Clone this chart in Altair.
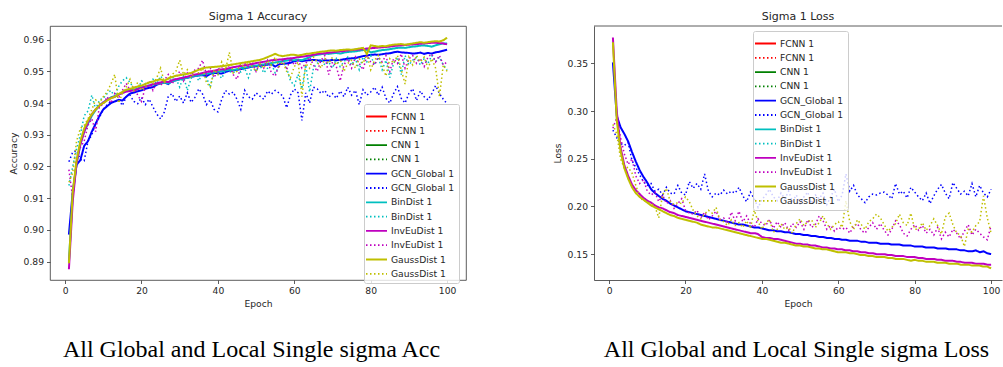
import altair as alt
import pandas as pd

epochs = list(range(1, 101))

# ---------------- Accuracy panel ----------------
acc_gcn_train = [
    0.8985, 0.9120, 0.9205, 0.9220, 0.9265, 0.9280, 0.9310, 0.9335, 0.9360, 0.9380,
    0.9390, 0.9400, 0.9405, 0.9410, 0.9408, 0.9420, 0.9430, 0.9433, 0.9437, 0.9440,
    0.9445, 0.9448, 0.9450, 0.9458, 0.9462, 0.9465, 0.9460, 0.9470, 0.9472, 0.9475,
    0.9478, 0.9480, 0.9483, 0.9485, 0.9487, 0.9488, 0.9485, 0.9492, 0.9495, 0.9494,
    0.9493, 0.9498, 0.9502, 0.9503, 0.9505, 0.9507, 0.9510, 0.9512, 0.9515, 0.9516,
    0.9517, 0.9520, 0.9521, 0.9523, 0.9515, 0.9522, 0.9524, 0.9525, 0.9527, 0.9532,
    0.9535, 0.9532, 0.9534, 0.9535, 0.9536, 0.9535, 0.9533, 0.9535, 0.9534, 0.9536,
    0.9535, 0.9536, 0.9538, 0.9540, 0.9541, 0.9542, 0.9545, 0.9548, 0.9550, 0.9552,
    0.9553, 0.9552, 0.9554, 0.9556, 0.9557, 0.9560, 0.9562, 0.9560, 0.9559, 0.9558,
    0.9556, 0.9557, 0.9559, 0.9555, 0.9558, 0.9556, 0.9560, 0.9562, 0.9565, 0.9568]
acc_gcn_val = [
    0.9215, 0.9245, 0.9250, 0.9222, 0.9218, 0.9280, 0.9300, 0.9335, 0.9355, 0.9380,
    0.9395, 0.9405, 0.9402, 0.9412, 0.9392, 0.9420, 0.9425, 0.9405, 0.9398, 0.9418,
    0.9395, 0.9412, 0.9388, 0.9365, 0.9350, 0.9372, 0.9420, 0.9430, 0.9405, 0.9422,
    0.9400, 0.9432, 0.9402, 0.9418, 0.9445, 0.9428, 0.9395, 0.9410, 0.9380, 0.9372,
    0.9412, 0.9440, 0.9428, 0.9435, 0.9412, 0.9380, 0.9440, 0.9420, 0.9412, 0.9432,
    0.9422, 0.9412, 0.9438, 0.9428, 0.9440, 0.9432, 0.9422, 0.9385, 0.9425, 0.9445,
    0.9432, 0.9345, 0.9432, 0.9400, 0.9450, 0.9445, 0.9430, 0.9440, 0.9418, 0.9430,
    0.9415, 0.9438, 0.9420, 0.9450, 0.9425, 0.9440, 0.9395, 0.9442, 0.9425, 0.9435,
    0.9450, 0.9425, 0.9450, 0.9415, 0.9400, 0.9430, 0.9452, 0.9415, 0.9400, 0.9430,
    0.9445, 0.9408, 0.9438, 0.9420, 0.9410, 0.9430, 0.9455, 0.9430, 0.9412, 0.9398]
acc_bin_train = [
    0.8900, 0.9110, 0.9210, 0.9270, 0.9310, 0.9335, 0.9360, 0.9378, 0.9392, 0.9402,
    0.9410, 0.9418, 0.9422, 0.9428, 0.9432, 0.9438, 0.9440, 0.9442, 0.9446, 0.9450,
    0.9452, 0.9455, 0.9458, 0.9460, 0.9462, 0.9465, 0.9462, 0.9468, 0.9472, 0.9475,
    0.9478, 0.9480, 0.9483, 0.9486, 0.9488, 0.9490, 0.9492, 0.9495, 0.9497, 0.9500,
    0.9500, 0.9503, 0.9505, 0.9504, 0.9507, 0.9510, 0.9512, 0.9514, 0.9516, 0.9518,
    0.9520, 0.9522, 0.9524, 0.9526, 0.9528, 0.9530, 0.9532, 0.9534, 0.9536, 0.9535,
    0.9537, 0.9535, 0.9540, 0.9545, 0.9550, 0.9552, 0.9554, 0.9556, 0.9555, 0.9557,
    0.9558, 0.9556, 0.9559, 0.9561, 0.9562, 0.9563, 0.9565, 0.9567, 0.9568, 0.9560,
    0.9562, 0.9565, 0.9567, 0.9568, 0.9570, 0.9572, 0.9574, 0.9575, 0.9574, 0.9576,
    0.9578, 0.9579, 0.9581, 0.9582, 0.9580, 0.9578, 0.9582, 0.9585, 0.9588, 0.9588]
acc_bin_val = [
    0.9140, 0.9200, 0.9255, 0.9300, 0.9360, 0.9375, 0.9425, 0.9380, 0.9410, 0.9415,
    0.9430, 0.9440, 0.9420, 0.9452, 0.9470, 0.9480, 0.9465, 0.9445, 0.9440, 0.9470,
    0.9462, 0.9455, 0.9475, 0.9460, 0.9485, 0.9470, 0.9465, 0.9480, 0.9478, 0.9450,
    0.9485, 0.9440, 0.9478, 0.9492, 0.9470, 0.9495, 0.9480, 0.9450, 0.9500, 0.9492,
    0.9478, 0.9505, 0.9500, 0.9495, 0.9505, 0.9498, 0.9510, 0.9480, 0.9515, 0.9500,
    0.9520, 0.9495, 0.9510, 0.9525, 0.9495, 0.9515, 0.9535, 0.9510, 0.9470, 0.9455,
    0.9490, 0.9445, 0.9520, 0.9435, 0.9510, 0.9525, 0.9540, 0.9520, 0.9530, 0.9510,
    0.9540, 0.9515, 0.9530, 0.9545, 0.9520, 0.9540, 0.9505, 0.9545, 0.9530, 0.9550,
    0.9520, 0.9545, 0.9505, 0.9535, 0.9480, 0.9525, 0.9545, 0.9490, 0.9550, 0.9520,
    0.9535, 0.9545, 0.9520, 0.9540, 0.9525, 0.9550, 0.9530, 0.9545, 0.9520, 0.9505]
acc_inv_train = [
    0.8876, 0.9090, 0.9210, 0.9270, 0.9310, 0.9340, 0.9365, 0.9380, 0.9392, 0.9402,
    0.9410, 0.9416, 0.9420, 0.9426, 0.9432, 0.9436, 0.9438, 0.9440, 0.9444, 0.9448,
    0.9452, 0.9455, 0.9460, 0.9462, 0.9465, 0.9468, 0.9466, 0.9472, 0.9475, 0.9478,
    0.9480, 0.9483, 0.9486, 0.9490, 0.9492, 0.9495, 0.9498, 0.9500, 0.9502, 0.9505,
    0.9506, 0.9508, 0.9510, 0.9513, 0.9515, 0.9517, 0.9519, 0.9521, 0.9523, 0.9526,
    0.9528, 0.9530, 0.9532, 0.9535, 0.9536, 0.9537, 0.9538, 0.9540, 0.9541, 0.9542,
    0.9545, 0.9546, 0.9548, 0.9550, 0.9552, 0.9555, 0.9556, 0.9557, 0.9559, 0.9560,
    0.9562, 0.9563, 0.9564, 0.9566, 0.9567, 0.9568, 0.9569, 0.9570, 0.9572, 0.9573,
    0.9574, 0.9575, 0.9576, 0.9577, 0.9578, 0.9580, 0.9581, 0.9582, 0.9583, 0.9584,
    0.9585, 0.9586, 0.9587, 0.9588, 0.9589, 0.9590, 0.9590, 0.9589, 0.9588, 0.9585]
acc_inv_val = [
    0.9190, 0.9100, 0.9230, 0.9260, 0.9280, 0.9330, 0.9350, 0.9310, 0.9390, 0.9395,
    0.9420, 0.9400, 0.9430, 0.9415, 0.9440, 0.9462, 0.9440, 0.9450, 0.9425, 0.9405,
    0.9450, 0.9470, 0.9440, 0.9465, 0.9455, 0.9472, 0.9490, 0.9460, 0.9480, 0.9500,
    0.9470, 0.9495, 0.9485, 0.9505, 0.9510, 0.9535, 0.9490, 0.9510, 0.9480, 0.9505,
    0.9515, 0.9500, 0.9520, 0.9490, 0.9475, 0.9512, 0.9525, 0.9515, 0.9530, 0.9500,
    0.9525, 0.9510, 0.9535, 0.9495, 0.9485, 0.9520, 0.9535, 0.9505, 0.9540, 0.9520,
    0.9535, 0.9510, 0.9525, 0.9545, 0.9520, 0.9500, 0.9535, 0.9550, 0.9490, 0.9530,
    0.9515, 0.9470, 0.9520, 0.9540, 0.9510, 0.9545, 0.9525, 0.9505, 0.9550, 0.9530,
    0.9520, 0.9545, 0.9530, 0.9550, 0.9500, 0.9540, 0.9525, 0.9555, 0.9510, 0.9540,
    0.9550, 0.9525, 0.9540, 0.9515, 0.9545, 0.9555, 0.9530, 0.9550, 0.9520, 0.9530]
acc_gauss_train = [
    0.8895, 0.9120, 0.9220, 0.9280, 0.9320, 0.9345, 0.9365, 0.9380, 0.9392, 0.9400,
    0.9408, 0.9415, 0.9420, 0.9428, 0.9435, 0.9442, 0.9445, 0.9448, 0.9452, 0.9455,
    0.9460, 0.9465, 0.9468, 0.9472, 0.9475, 0.9470, 0.9478, 0.9482, 0.9486, 0.9488,
    0.9490, 0.9492, 0.9495, 0.9500, 0.9505, 0.9510, 0.9512, 0.9513, 0.9514, 0.9515,
    0.9516, 0.9518, 0.9520, 0.9522, 0.9524, 0.9526, 0.9528, 0.9530, 0.9532, 0.9534,
    0.9536, 0.9540, 0.9545, 0.9550, 0.9555, 0.9550, 0.9548, 0.9550, 0.9552, 0.9552,
    0.9550, 0.9552, 0.9555, 0.9556, 0.9558, 0.9560, 0.9562, 0.9563, 0.9565, 0.9566,
    0.9565, 0.9567, 0.9568, 0.9569, 0.9568, 0.9570, 0.9572, 0.9574, 0.9555, 0.9582,
    0.9580, 0.9578, 0.9580, 0.9579, 0.9582, 0.9584, 0.9585, 0.9586, 0.9584, 0.9586,
    0.9588, 0.9590, 0.9592, 0.9590, 0.9592, 0.9594, 0.9595, 0.9594, 0.9598, 0.9606]
acc_gauss_val = [
    0.9150, 0.9180, 0.9280, 0.9320, 0.9330, 0.9350, 0.9380, 0.9410, 0.9400, 0.9420,
    0.9435, 0.9460, 0.9490, 0.9400, 0.9430, 0.9450, 0.9475, 0.9440, 0.9465, 0.9440,
    0.9450, 0.9470, 0.9460, 0.9480, 0.9510, 0.9465, 0.9475, 0.9490, 0.9500, 0.9535,
    0.9490, 0.9505, 0.9480, 0.9500, 0.9495, 0.9510, 0.9465, 0.9450, 0.9505, 0.9490,
    0.9530, 0.9505, 0.9560, 0.9495, 0.9500, 0.9525, 0.9510, 0.9530, 0.9515, 0.9500,
    0.9525, 0.9510, 0.9535, 0.9520, 0.9545, 0.9515, 0.9530, 0.9500, 0.9480, 0.9515,
    0.9530, 0.9420, 0.9525, 0.9510, 0.9545, 0.9530, 0.9510, 0.9540, 0.9525, 0.9545,
    0.9520, 0.9540, 0.9500, 0.9525, 0.9535, 0.9510, 0.9540, 0.9525, 0.9555, 0.9505,
    0.9535, 0.9550, 0.9520, 0.9485, 0.9540, 0.9525, 0.9550, 0.9505, 0.9460, 0.9545,
    0.9520, 0.9550, 0.9530, 0.9545, 0.9510, 0.9540, 0.9510, 0.9420, 0.9520, 0.9500]

# ---------------- Loss panel ----------------
loss_gcn_train = [
    0.351, 0.295, 0.283, 0.276, 0.268, 0.257, 0.247, 0.238, 0.231, 0.225,
    0.218, 0.214, 0.211, 0.208, 0.206, 0.203, 0.201, 0.199, 0.197, 0.195,
    0.194, 0.193, 0.192, 0.191, 0.190, 0.189, 0.188, 0.187, 0.186, 0.185,
    0.184, 0.183, 0.182, 0.181, 0.181, 0.180, 0.179, 0.178, 0.178, 0.177,
    0.176, 0.175, 0.175, 0.174, 0.174, 0.173, 0.173, 0.172, 0.171, 0.171,
    0.170, 0.170, 0.169, 0.169, 0.168, 0.168, 0.167, 0.167, 0.166, 0.166,
    0.165, 0.165, 0.164, 0.164, 0.164, 0.163, 0.163, 0.162, 0.162, 0.162,
    0.161, 0.161, 0.161, 0.160, 0.160, 0.160, 0.159, 0.159, 0.159, 0.158,
    0.158, 0.158, 0.157, 0.157, 0.157, 0.156, 0.156, 0.156, 0.155, 0.155,
    0.155, 0.154, 0.154, 0.153, 0.153, 0.154, 0.152, 0.153, 0.151, 0.150]
loss_gcn_val = [
    0.280, 0.272, 0.266, 0.264, 0.267, 0.248, 0.241, 0.233, 0.226, 0.222,
    0.224, 0.216, 0.218, 0.212, 0.220, 0.214, 0.213, 0.222, 0.214, 0.212,
    0.226, 0.219, 0.224, 0.218, 0.234, 0.216, 0.210, 0.214, 0.212, 0.217,
    0.213, 0.216, 0.214, 0.220, 0.211, 0.205, 0.215, 0.208, 0.199, 0.207,
    0.212, 0.218, 0.210, 0.206, 0.214, 0.208, 0.216, 0.205, 0.212, 0.203,
    0.210, 0.215, 0.203, 0.212, 0.208, 0.214, 0.202, 0.210, 0.218, 0.205,
    0.212, 0.234, 0.216, 0.222, 0.212, 0.208, 0.204, 0.210, 0.213, 0.212,
    0.214, 0.215, 0.212, 0.208, 0.224, 0.213, 0.216, 0.209, 0.220, 0.215,
    0.210, 0.206, 0.214, 0.203, 0.211, 0.218, 0.223, 0.214, 0.208, 0.225,
    0.219, 0.213, 0.216, 0.211, 0.224, 0.210, 0.222, 0.214, 0.210, 0.218]
loss_inv_train = [
    0.377, 0.300, 0.262, 0.243, 0.232, 0.223, 0.217, 0.213, 0.209, 0.206,
    0.204, 0.201, 0.199, 0.198, 0.196, 0.194, 0.193, 0.191, 0.190, 0.189,
    0.188, 0.187, 0.186, 0.185, 0.184, 0.183, 0.182, 0.181, 0.180, 0.179,
    0.178, 0.177, 0.176, 0.175, 0.174, 0.173, 0.172, 0.172, 0.171, 0.168,
    0.167, 0.167, 0.166, 0.166, 0.165, 0.164, 0.163, 0.162, 0.161, 0.161,
    0.160, 0.160, 0.159, 0.159, 0.158, 0.157, 0.157, 0.156, 0.156, 0.155,
    0.155, 0.154, 0.154, 0.153, 0.153, 0.152, 0.152, 0.151, 0.151, 0.150,
    0.150, 0.150, 0.149, 0.149, 0.148, 0.148, 0.148, 0.147, 0.147, 0.147,
    0.146, 0.146, 0.145, 0.145, 0.145, 0.144, 0.144, 0.143, 0.143, 0.143,
    0.142, 0.142, 0.141, 0.141, 0.141, 0.140, 0.140, 0.140, 0.139, 0.139]
loss_inv_val = [
    0.282, 0.293, 0.272, 0.255, 0.244, 0.250, 0.232, 0.224, 0.228, 0.216,
    0.212, 0.215, 0.205, 0.212, 0.203, 0.206, 0.198, 0.203, 0.208, 0.196,
    0.193, 0.192, 0.196, 0.188, 0.194, 0.186, 0.190, 0.195, 0.186, 0.188,
    0.182, 0.194, 0.185, 0.195, 0.184, 0.190, 0.182, 0.178, 0.187, 0.182,
    0.180, 0.186, 0.177, 0.184, 0.178, 0.183, 0.175, 0.182, 0.178, 0.184,
    0.176, 0.186, 0.178, 0.181, 0.190, 0.185, 0.176, 0.180, 0.174, 0.178,
    0.176, 0.178, 0.172, 0.179, 0.182, 0.175, 0.172, 0.178, 0.183, 0.176,
    0.182, 0.175, 0.170, 0.176, 0.185, 0.181, 0.172, 0.169, 0.176, 0.181,
    0.175, 0.180, 0.172, 0.176, 0.170, 0.178, 0.166, 0.173, 0.168, 0.176,
    0.172, 0.166, 0.174, 0.181, 0.170, 0.176, 0.172, 0.168, 0.165, 0.180]
loss_gauss_train = [
    0.372, 0.290, 0.258, 0.240, 0.229, 0.220, 0.214, 0.210, 0.207, 0.204,
    0.201, 0.199, 0.197, 0.195, 0.193, 0.191, 0.190, 0.188, 0.187, 0.186,
    0.185, 0.184, 0.183, 0.181, 0.180, 0.179, 0.178, 0.178, 0.177, 0.176,
    0.175, 0.174, 0.173, 0.172, 0.171, 0.170, 0.169, 0.168, 0.167, 0.166,
    0.166, 0.165, 0.164, 0.163, 0.162, 0.162, 0.161, 0.160, 0.159, 0.159,
    0.158, 0.158, 0.157, 0.156, 0.156, 0.155, 0.155, 0.154, 0.153, 0.152,
    0.152, 0.152, 0.151, 0.151, 0.150, 0.149, 0.149, 0.148, 0.148, 0.147,
    0.147, 0.147, 0.146, 0.146, 0.145, 0.145, 0.145, 0.144, 0.143, 0.144,
    0.143, 0.143, 0.142, 0.142, 0.142, 0.141, 0.141, 0.141, 0.140, 0.140,
    0.140, 0.139, 0.139, 0.139, 0.138, 0.138, 0.138, 0.137, 0.137, 0.135]
loss_gauss_val = [
    0.286, 0.276, 0.250, 0.240, 0.241, 0.235, 0.222, 0.210, 0.206, 0.205,
    0.203, 0.200, 0.188, 0.212, 0.219, 0.205, 0.202, 0.204, 0.203, 0.210,
    0.205, 0.196, 0.190, 0.187, 0.192, 0.196, 0.193, 0.199, 0.186, 0.184,
    0.180, 0.186, 0.180, 0.183, 0.178, 0.185, 0.177, 0.196, 0.184, 0.176,
    0.183, 0.186, 0.173, 0.176, 0.182, 0.176, 0.178, 0.172, 0.182, 0.187,
    0.180, 0.184, 0.186, 0.178, 0.183, 0.190, 0.182, 0.176, 0.181, 0.184,
    0.178, 0.206, 0.184, 0.176, 0.186, 0.181, 0.176, 0.184, 0.187, 0.192,
    0.188, 0.181, 0.174, 0.178, 0.182, 0.192, 0.183, 0.180, 0.193, 0.176,
    0.176, 0.183, 0.175, 0.180, 0.187, 0.180, 0.171, 0.189, 0.193, 0.181,
    0.172, 0.170, 0.158, 0.176, 0.173, 0.180, 0.184, 0.211, 0.188, 0.172]

model_names = ["FCNN 1", "CNN 1", "GCN_Global 1", "BinDist 1", "InvEuDist 1", "GaussDist 1"]
model_colors = ["#ff0000", "#008000", "#0000ff", "#00bfbf", "#bf00bf", "#bfbf00"]

series_keys = []
series_colors = []
series_dashes = []
for n, c in zip(model_names, model_colors):
    series_keys += [n + " (train)", n + " (val)"]
    series_colors += [c, c]
    series_dashes += [[1, 0], [1.5, 2.5]]

acc_series = [
    ("GCN_Global 1 (train)", acc_gcn_train), ("GCN_Global 1 (val)", acc_gcn_val),
    ("BinDist 1 (train)", acc_bin_train), ("BinDist 1 (val)", acc_bin_val),
    ("InvEuDist 1 (train)", acc_inv_train), ("InvEuDist 1 (val)", acc_inv_val),
    ("GaussDist 1 (train)", acc_gauss_train), ("GaussDist 1 (val)", acc_gauss_val),
]
loss_series = [
    ("GCN_Global 1 (train)", loss_gcn_train), ("GCN_Global 1 (val)", loss_gcn_val),
    ("InvEuDist 1 (train)", loss_inv_train), ("InvEuDist 1 (val)", loss_inv_val),
    ("GaussDist 1 (train)", loss_gauss_train), ("GaussDist 1 (val)", loss_gauss_val),
]
for _, s in acc_series + loss_series:
    assert len(s) == 100, len(s)

FONT = "DejaVu Sans"
TXT = "#262626"


def make_legend(lx, ly):
    return alt.Legend(
        orient="none", legendX=lx, legendY=ly, title=None,
        labelExpr="split(datum.label, ' (')[0]",
        symbolType="M-1.4,0H1.4", symbolSize=225, symbolStrokeWidth=1.8,
        labelFont=FONT, labelFontSize=9.2, labelColor=TXT, labelOffset=6,
        fillColor="rgba(255,255,255,0.8)", strokeColor="#cccccc",
        padding=4, cornerRadius=2, rowPadding=0.3, symbolLimit=20,
    )


def panel(series, title, ytitle, ydomain, yticks, xdomain, width, legend_xy,
          caption, caption_x, open_right=False):
    height = 254
    legend = make_legend(*legend_xy)
    x = alt.X("epoch:Q", scale=alt.Scale(domain=xdomain, nice=False, zero=False),
              axis=alt.Axis(values=[0, 20, 40, 60, 80, 100], title="Epoch",
                            domain=open_right, domainColor="#333333", domainWidth=0.8))
    y = alt.Y("value:Q", scale=alt.Scale(domain=ydomain, nice=False, zero=False),
              axis=alt.Axis(values=yticks, format=".2f", title=ytitle,
                            domain=open_right, domainColor="#333333", domainWidth=0.8))
    color = alt.Color("series:N", scale=alt.Scale(domain=series_keys, range=series_colors),
                      legend=legend)
    dash = alt.StrokeDash("series:N", scale=alt.Scale(domain=series_keys, range=series_dashes),
                          legend=legend)
    layers = []
    for key, vals in series:
        df = pd.DataFrame({"epoch": epochs, "value": vals, "series": key})
        w = 2.0 if key.endswith("(train)") else 1.5
        layers.append(
            alt.Chart(df).mark_line(strokeWidth=w).encode(x=x, y=y, color=color, strokeDash=dash)
        )
    cap = alt.Chart(pd.DataFrame({"t": [caption]})).mark_text(
        font="Liberation Serif", fontSize=24, align="center", baseline="alphabetic", color="black"
    ).encode(text="t:N", x=alt.value(caption_x), y=alt.value(331))
    layers.append(cap)
    if open_right:
        top = alt.Chart(pd.DataFrame({"a": [0]})).mark_rule(color="#333333", strokeWidth=0.8).encode(
            x=alt.value(0), x2=alt.value(width), y=alt.value(0))
        layers.append(top)
    ch = alt.layer(*layers).properties(
        width=width, height=height,
        title=alt.TitleParams(title, fontSize=11, font=FONT, fontWeight="normal",
                              color=TXT, offset=4, anchor="middle"),
    )
    if open_right:
        ch = ch.properties(view=alt.ViewBackground(stroke=None))
    return ch


left = panel(acc_series, "Sigma 1 Accuracy", "Accuracy", [0.8842, 0.9643],
             [0.89, 0.90, 0.91, 0.92, 0.93, 0.94, 0.95, 0.96], [-3.95, 104.95], 416,
             (314, 78), "All Global and Local Single sigma Acc", 201.5)
right = panel(loss_series, "Sigma 1 Loss", "Loss", [0.1229, 0.3891],
              [0.15, 0.20, 0.25, 0.30, 0.35], [-3.95, 102.85], 408,
              (159, 5), "All Global and Local Single sigma Loss", 202.5, open_right=True)

chart = alt.hconcat(left, right, spacing=128, bounds="flush").resolve_scale(
    color="independent", strokeDash="independent"
).resolve_legend(
    color="independent", strokeDash="independent"
).properties(
    padding={"left": 8, "top": 10, "right": 0, "bottom": 0},
    background="white",
).configure_view(stroke="#333333", strokeWidth=0.8).configure_axis(
    labelFont=FONT, labelFontSize=9.2, labelColor=TXT,
    titleFont=FONT, titleFontSize=9.2, titleColor=TXT, titleFontWeight="normal",
    tickColor="#333333", tickSize=3.5, tickWidth=0.8, labelPadding=3,
    grid=False, domain=False,
).configure_axisY(titlePadding=5).configure_axisX(titlePadding=4)

chart.save("out.html", embed_options={"renderer": "svg", "actions": False})
